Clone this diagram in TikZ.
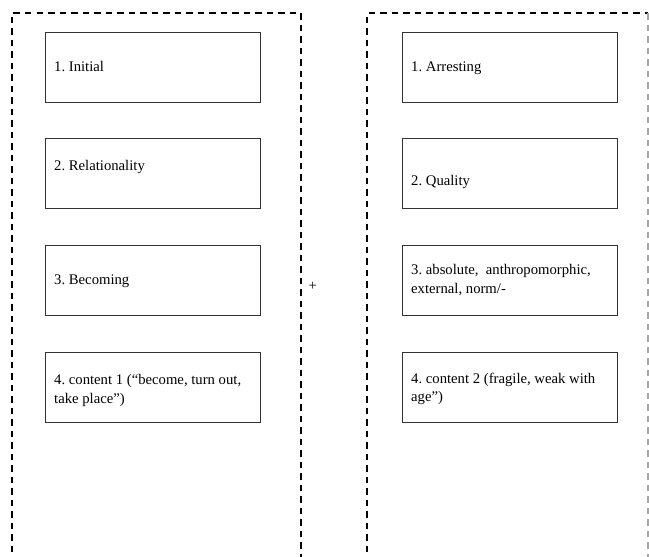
\documentclass[tikz,border=0pt]{standalone}
\usepackage{fontspec}
\setmainfont{Liberation Serif}
\frenchspacing
\begin{document}
\begin{tikzpicture}[x=1pt, y=-1pt, every node/.style={font=\fontsize{14.7}{18.3}\selectfont, inner sep=0pt},
  item/.style={draw=black!80, line width=0.8pt, minimum width=215pt, minimum height=70pt},
  itemtext/.style={anchor=base west, align=left},
  group/.style={line width=1.6pt, dash pattern=on 6.5pt off 5pt}]
  \useasboundingbox (0,0) rectangle (649,557);
  \clip (0,0) rectangle (649,557);
  % dashed groups
  \draw[group] (12,575) -- (12,13) -- (300.7,13) -- (300.7,575);
  \draw[group] (367,575) -- (367,13) -- (648,13);
  \draw[group, black!35] (648,13) -- (648,575);
  \node (plus) at (312.7,286.5) {+};
  % left column
  \node[item] (l1) at (153.2,67) {};
  \node[item] (l2) at (153.2,173.5) {};
  \node[item] (l3) at (153.2,280.5) {};
  \node[item] (l4) at (153.2,387.3) {};
  \node[itemtext] (tl1) at (54,71.7) {1. Initial};
  \node[itemtext] (tl2) at (54,170) {2. Relationality};
  \node[itemtext] (tl3) at (54,284) {3. Becoming};
  \node[itemtext] (tl4) at (54,403) {4. content 1 (“become, turn out,\\take place”)};
  % right column
  \node[item] (r1) at (510,67) {};
  \node[item] (r2) at (510,173.5) {};
  \node[item] (r3) at (510,280.5) {};
  \node[item] (r4) at (510,387.3) {};
  \node[itemtext] (tr1) at (411,71.7) {1. Arresting};
  \node[itemtext] (tr2) at (411,185) {2. Quality};
  \node[itemtext] (tr3) at (411,293) {3. absolute,~ anthropomorphic,\\external, norm/-};
  \node[itemtext] (tr4) at (411,401.7) {4. content 2 (fragile, weak with\\age”)};
\end{tikzpicture}
\end{document}
